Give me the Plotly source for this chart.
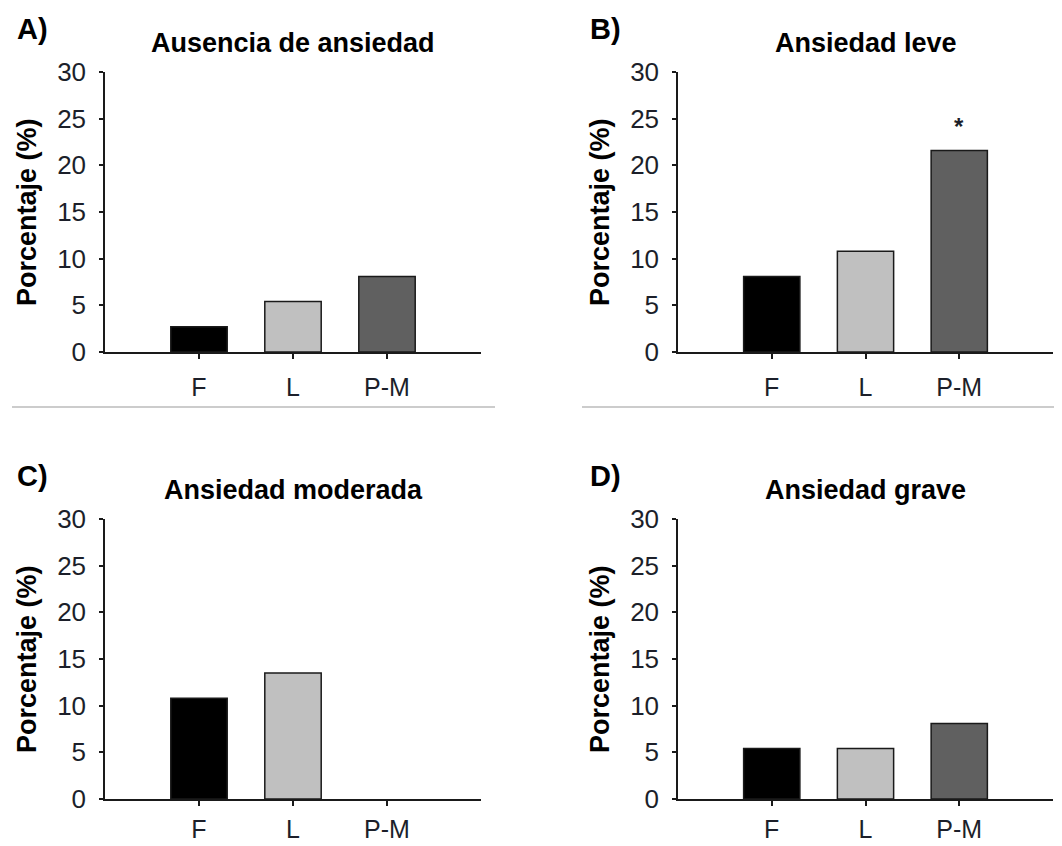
import plotly.graph_objects as go

categories = ["F", "L", "P-M"]
panel_letters = ["A)", "B)", "C)", "D)"]
panel_titles = ["Ausencia de ansiedad", "Ansiedad leve", "Ansiedad moderada", "Ansiedad grave"]
values_A = [2.7, 5.4, 8.1]
values_B = [8.1, 10.8, 21.6]
values_C = [10.8, 13.5, 0.0]
values_D = [5.4, 5.4, 8.1]
significance_B = ["", "", "*"]
y_ticks = [0, 5, 10, 15, 20, 25, 30]
y_label = "Porcentaje (%)"

bar_colors = ["#000000", "#c0c0c0", "#606060"]
OFF = 8                      # page body margin
W, H = 1062 - OFF, 846 - OFF  # figure size so it fits in the window
FONT = "Liberation Sans, Arial, sans-serif"
TICK_COLOR = "#1c1f2a"

# pixel layout of each panel in window coords: (left, right, top, bottom)
panels = [
    (105, 481, 72, 352),
    (678, 1053, 72, 352),
    (105, 481, 519, 799),
    (678, 1053, 519, 799),
]
all_values = [values_A, values_B, values_C, values_D]

fig = go.Figure()
annotations = []
shapes = []

def px_x(x):
    return (x - OFF) / W

def px_y(y):
    return 1 - (y - OFF) / H

for i, (vals, (l, r, t, b)) in enumerate(zip(all_values, panels)):
    n = i + 1
    xa = "x" if n == 1 else f"x{n}"
    ya = "y" if n == 1 else f"y{n}"
    fig.add_trace(go.Bar(
        x=categories, y=vals, xaxis=xa, yaxis=ya,
        marker=dict(color=bar_colors,
                    line=dict(color="#1a1a1a", width=[1.5 if v > 0 else 0 for v in vals])),
        width=0.6, showlegend=False, hoverinfo="x+y",
    ))
    xkey = "xaxis" if n == 1 else f"xaxis{n}"
    ykey = "yaxis" if n == 1 else f"yaxis{n}"
    fig.layout[xkey] = dict(
        domain=[px_x(l), px_x(r)], anchor=ya, type="category",
        categoryorder="array", categoryarray=categories,
        range=[-1, 3], showline=True, linecolor="#1a1a1a", linewidth=1.5,
        ticks="outside", ticklen=5, tickwidth=1.5, tickcolor="#1a1a1a",
        showgrid=False, zeroline=False,
        ticklabelstandoff=(7 if i < 2 else 2), automargin=False,
        tickfont=dict(family=FONT, size=25, color=TICK_COLOR), fixedrange=True,
    )
    fig.layout[ykey] = dict(
        domain=[px_y(b), px_y(t)], anchor=xa, range=[0, 30],
        tickvals=y_ticks, showline=True, linecolor="#1a1a1a", linewidth=1.5,
        ticks="outside", ticklen=4, tickwidth=1.5, tickcolor="#1a1a1a",
        showgrid=False, zeroline=False, ticklabelstandoff=8, automargin=False,
        tickfont=dict(family=FONT, size=26, color=TICK_COLOR), fixedrange=True,
    )
    # panel letter
    annotations.append(dict(
        text=f"<b>{panel_letters[i]}</b>", xref="paper", yref="paper",
        x=px_x(l - 90), y=px_y(t - 43), xanchor="left", yanchor="middle",
        showarrow=False, font=dict(family=FONT, size=29, color="#000000"),
    ))
    # panel title
    annotations.append(dict(
        text=f"<b>{panel_titles[i]}</b>", xref="paper", yref="paper",
        x=px_x((l + r) / 2), y=px_y(t - 29), xanchor="center", yanchor="middle",
        showarrow=False, font=dict(family=FONT, size=27, color="#000000"),
    ))
    # y-axis label
    annotations.append(dict(
        text=f"<b>{y_label}</b>", xref="paper", yref="paper",
        x=px_x(l - 78), y=px_y((t + b) / 2), xanchor="center", yanchor="middle",
        textangle=-90, showarrow=False,
        font=dict(family=FONT, size=27, color="#000000"),
    ))

# significance markers for panel B
for cat, v, s in zip(categories, values_B, significance_B):
    if s:
        annotations.append(dict(
            text=f"<b>{s}</b>", xref="x2", yref="y2", x=cat, y=v,
            xanchor="center", yanchor="bottom", yshift=8, showarrow=False,
            font=dict(family=FONT, size=24, color=TICK_COLOR),
        ))

# separator lines under the top row
shapes.append(dict(type="line", xref="paper", yref="paper",
                   x0=px_x(12), x1=px_x(495), y0=px_y(407), y1=px_y(407),
                   line=dict(color="#cccccc", width=2)))
shapes.append(dict(type="line", xref="paper", yref="paper",
                   x0=px_x(582), x1=1, y0=px_y(407), y1=px_y(407),
                   line=dict(color="#cccccc", width=2)))

fig.update_layout(
    width=W, height=H, margin=dict(l=0, r=0, t=0, b=0, autoexpand=False),
    paper_bgcolor="white", plot_bgcolor="white",
    annotations=annotations, shapes=shapes, bargap=0.4,
    font=dict(family=FONT),
)

fig.write_html("out.html")
